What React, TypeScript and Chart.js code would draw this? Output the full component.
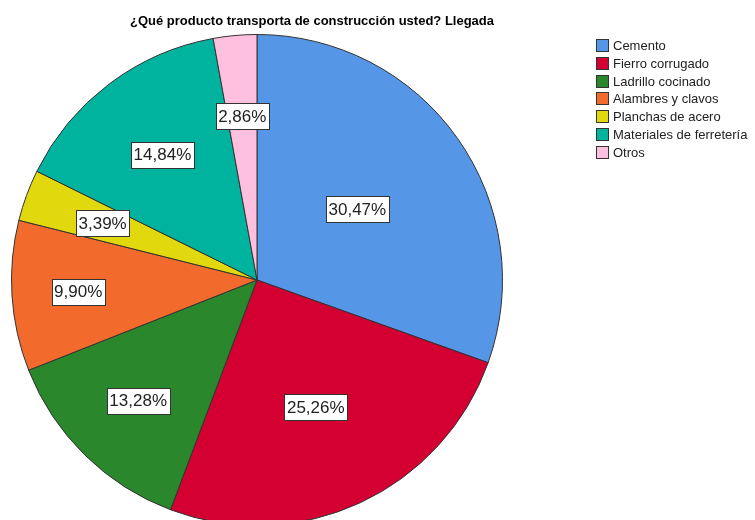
import React, { useEffect, useRef } from "react";
import { Chart, registerables } from "chart.js";

Chart.register(...registerables);

const TITLE = "¿Qué producto transporta de construcción usted? Llegada";
const CATEGORIES = [
  "Cemento",
  "Fierro corrugado",
  "Ladrillo cocinado",
  "Alambres y clavos",
  "Planchas de acero",
  "Materiales de ferretería",
  "Otros",
];
const PERCENTS = [30.47, 25.26, 13.28, 9.9, 3.39, 14.84, 2.86];
const COLORS = ["#5596E6", "#D50032", "#2A872B", "#F26B2C", "#E2D80E", "#00B39E", "#FFC0E0"];
// radial position of each value label, as a fraction of the radius (style)
const LABEL_POS = [0.5, 0.57, 0.69, 0.73, 0.67, 0.64, 0.67];

const FONT = "'Liberation Sans', Arial, sans-serif";

const fmt = (v: number) => v.toFixed(2).replace(".", ",") + "%";

const decorPlugin = {
  id: "decor",
  afterDatasetsDraw(chart: any) {
    const ctx = chart.ctx;
    const meta = chart.getDatasetMeta(0);
    ctx.save();
    // value labels
    ctx.font = `17px ${FONT}`;
    ctx.textAlign = "center";
    ctx.textBaseline = "middle";
    meta.data.forEach((arc: any, i: number) => {
      const p = arc.getProps(["x", "y", "startAngle", "endAngle", "outerRadius"], true);
      const mid = (p.startAngle + p.endAngle) / 2;
      const r = p.outerRadius * LABEL_POS[i];
      const cx = p.x + Math.cos(mid) * r;
      const cy = p.y + Math.sin(mid) * r;
      const txt = fmt(PERCENTS[i]);
      const w = ctx.measureText(txt).width + 5;
      const h = 26;
      const bx = Math.round(cx - w / 2) + 0.5;
      const by = Math.round(cy - h / 2) + 0.5;
      ctx.fillStyle = "#ffffff";
      ctx.fillRect(bx, by, Math.round(w), h);
      ctx.strokeStyle = "#333333";
      ctx.lineWidth = 1;
      ctx.strokeRect(bx, by, Math.round(w), h);
      ctx.fillStyle = "#222222";
      ctx.fillText(txt, cx, cy + 1);
    });
    // title
    ctx.font = `bold 13px ${FONT}`;
    ctx.fillStyle = "#000000";
    ctx.textAlign = "center";
    ctx.textBaseline = "alphabetic";
    ctx.fillText(TITLE, 312, 25);
    // legend
    ctx.font = `13px ${FONT}`;
    ctx.textAlign = "left";
    ctx.textBaseline = "middle";
    const labels: string[] = chart.data.labels;
    const colors: string[] = chart.data.datasets[0].backgroundColor;
    labels.forEach((lab, i) => {
      const y = 39 + i * 17.8;
      ctx.fillStyle = colors[i];
      ctx.fillRect(596.5, Math.round(y) + 0.5, 12, 12);
      ctx.strokeStyle = "#333333";
      ctx.strokeRect(596.5, Math.round(y) + 0.5, 12, 12);
      ctx.fillStyle = "#222222";
      ctx.fillText(lab, 613, Math.round(y) + 7);
    });
    ctx.restore();
  },
};

export default function App() {
  const ref = useRef<HTMLCanvasElement | null>(null);
  useEffect(() => {
    if (!ref.current) return;
    const chart = new Chart(ref.current, {
      type: "pie",
      data: {
        labels: CATEGORIES,
        datasets: [
          {
            data: PERCENTS,
            backgroundColor: COLORS,
            borderColor: "#333333",
            borderWidth: 1,
          },
        ],
      },
      options: {
        responsive: false,
        animation: false,
        devicePixelRatio: 1,
        layout: { padding: { left: 11, right: 252, top: 34, bottom: 34 } },
        plugins: {
          legend: { display: false },
          title: { display: false },
          tooltip: { enabled: false },
        },
      },
      plugins: [
        decorPlugin,
        {
          id: "bg",
          beforeDraw(c: any) {
            c.ctx.save();
            c.ctx.fillStyle = "#ffffff";
            c.ctx.fillRect(0, 0, c.width, c.height);
            c.ctx.restore();
          },
        },
      ],
    });
    return () => chart.destroy();
  }, []);
  return (
    <div
      style={{
        position: "fixed",
        left: 0,
        top: 0,
        width: 755,
        height: 520,
        overflow: "hidden",
        background: "#ffffff",
      }}
    >
      <canvas ref={ref} width={755} height={560} style={{ display: "block" }} />
    </div>
  );
}
